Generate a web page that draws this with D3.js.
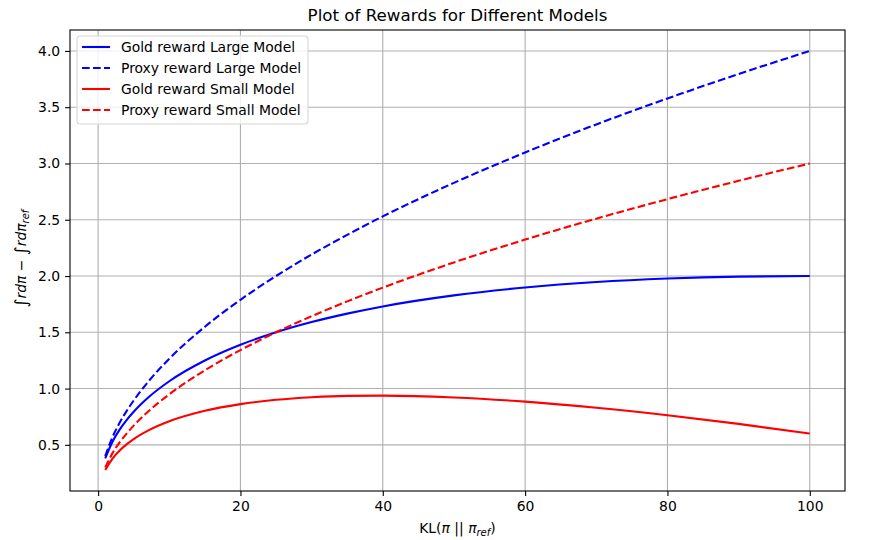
<!DOCTYPE html>
<html>
<head>
<meta charset="utf-8">
<script src="https://cdn.jsdelivr.net/npm/d3@7"></script>
<style>
  body { margin: 0; background: #fff; }
  svg { font-family: 'DejaVu Sans', sans-serif; }
  .tick text { font-size: 13.9px; fill: #000; }
</style>
</head>
<body>
<svg width="873" height="540"></svg>
<script>
// ===== data =====
var kl = [1, 2, 3, 4, 5, 7, 10, 15, 20, 25, 30, 35, 40, 50, 60, 70, 80, 90, 100]
var goldLarge = [0.38, 0.526, 0.633, 0.72, 0.794, 0.918, 1.065, 1.249, 1.389, 1.50, 1.591, 1.666, 1.730, 1.828, 1.898, 1.947, 1.978, 1.995, 2.00]
var proxyLarge = [0.40, 0.566, 0.693, 0.80, 0.894, 1.058, 1.265, 1.549, 1.789, 2.00, 2.191, 2.366, 2.530, 2.828, 3.098, 3.347, 3.578, 3.795, 4.00]
var goldSmall = [0.276, 0.376, 0.448, 0.504, 0.551, 0.626, 0.709, 0.802, 0.862, 0.90, 0.923, 0.935, 0.937, 0.921, 0.884, 0.830, 0.763, 0.686, 0.60]
var proxySmall = [0.30, 0.424, 0.520, 0.60, 0.671, 0.794, 0.949, 1.162, 1.342, 1.50, 1.643, 1.775, 1.897, 2.121, 2.324, 2.510, 2.683, 2.846, 3.00]
var xTicks = [0, 20, 40, 60, 80, 100]
var yTicks = [0.5, 1.0, 1.5, 2.0, 2.5, 3.0, 3.5, 4.0]

var series = [
  { name: 'Gold reward Large Model', values: goldLarge, color: 'blue', dash: null },
  { name: 'Proxy reward Large Model', values: proxyLarge, color: 'blue', dash: '7.7,3.3' },
  { name: 'Gold reward Small Model', values: goldSmall, color: 'red', dash: null },
  { name: 'Proxy reward Small Model', values: proxySmall, color: 'red', dash: '7.7,3.3' }
]

// ===== layout =====
var padL = 70, padR = 845, padT = 30, padB = 491
var svg = d3.select('svg')

// matplotlib style 5% margins
var xmin = d3.min(kl), xmax = d3.max(kl)
var xpad = (xmax - xmin) * 0.05
var allY = [].concat(goldLarge, proxyLarge, goldSmall, proxySmall)
var ymin = d3.min(allY), ymax = d3.max(allY)
var ypad = (ymax - ymin) * 0.05

var x = d3.scaleLinear().domain([xmin - xpad, xmax + xpad]).range([padL, padR])
var y = d3.scaleLinear().domain([ymin - ypad, ymax + ypad]).range([padB, padT])

// grid
var grid = svg.append('g')
grid.selectAll('.gx').data(xTicks).enter().append('line')
  .attr('x1', d => x(d)).attr('x2', d => x(d))
  .attr('y1', padT).attr('y2', padB)
  .attr('stroke', '#b0b0b0').attr('stroke-width', 1.1)
grid.selectAll('.gy').data(yTicks).enter().append('line')
  .attr('x1', padL).attr('x2', padR)
  .attr('y1', d => y(d)).attr('y2', d => y(d))
  .attr('stroke', '#b0b0b0').attr('stroke-width', 1.1)

// curves
var line = d3.line()
  .x(function (d, i) { return x(kl[i]) })
  .y(function (d) { return y(d) })
  .curve(d3.curveMonotoneX)

svg.append('defs').append('clipPath').attr('id', 'clip')
  .append('rect').attr('x', padL).attr('y', padT).attr('width', padR - padL).attr('height', padB - padT)

svg.append('g').attr('clip-path', 'url(#clip)')
  .selectAll('path').data(series).enter().append('path')
  .attr('d', d => line(d.values))
  .attr('fill', 'none')
  .attr('stroke', d => d.color)
  .attr('stroke-width', 2.1)
  .attr('stroke-dasharray', d => d.dash)

// axes
var xAxis = d3.axisBottom(x).tickValues(xTicks).tickFormat(d3.format('d')).tickSize(4.9).tickPadding(4.9)
var yAxis = d3.axisLeft(y).tickValues(yTicks).tickFormat(d3.format('.1f')).tickSize(4.9).tickPadding(4.9)
svg.append('g').attr('transform', 'translate(0,' + padB + ')').call(xAxis)
  .call(g => g.select('.domain').remove())
svg.append('g').attr('transform', 'translate(' + padL + ',0)').call(yAxis)
  .call(g => g.select('.domain').remove())
svg.selectAll('.tick line').attr('stroke', '#000').attr('stroke-width', 1.1)
svg.selectAll('.tick text').attr('font-family', 'DejaVu Sans')

// frame
svg.append('rect')
  .attr('x', padL).attr('y', padT).attr('width', padR - padL).attr('height', padB - padT)
  .attr('fill', 'none').attr('stroke', '#000').attr('stroke-width', 1.1)

// title
svg.append('text')
  .attr('x', (padL + padR) / 2).attr('y', 21)
  .attr('text-anchor', 'middle')
  .attr('font-size', 16.7)
  .text('Plot of Rewards for Different Models')

// x label
var xl = svg.append('text')
  .attr('x', (padL + padR) / 2).attr('y', 533)
  .attr('text-anchor', 'middle')
  .attr('font-size', 13.9)
xl.append('tspan').text('KL(')
xl.append('tspan').attr('font-style', 'italic').text('π')
xl.append('tspan').text(' || ')
xl.append('tspan').attr('font-style', 'italic').text('π')
xl.append('tspan').attr('font-style', 'italic').attr('font-size', 10).attr('dy', 3).text('ref')
xl.append('tspan').attr('dy', -3).text(')')

// y label
var yl = svg.append('text')
  .attr('transform', 'translate(26,' + ((padT + padB) / 2 - 2) + ') rotate(-90)')
  .attr('text-anchor', 'middle')
  .attr('font-size', 13.9)
yl.append('tspan').attr('font-size', 17).attr('dy', 1).text('∫')
yl.append('tspan').attr('font-style', 'italic').attr('dy', -1).text('rdπ')
yl.append('tspan').text(' − ')
yl.append('tspan').attr('font-size', 17).attr('dy', 1).text('∫')
yl.append('tspan').attr('font-style', 'italic').attr('dy', -1).text('rdπ')
yl.append('tspan').attr('font-style', 'italic').attr('font-size', 10).attr('dy', 3).text('ref')

// legend
var lg = svg.append('g').attr('transform', 'translate(77,36)')
lg.append('rect')
  .attr('width', 231).attr('height', 88).attr('rx', 3)
  .attr('fill', 'rgba(255,255,255,0.8)').attr('stroke', '#d6d6d6').attr('stroke-width', 1.1)
var items = lg.selectAll('.item').data(series).enter().append('g')
  .attr('transform', (d, i) => 'translate(0,' + (11 + i * 21) + ')')
items.append('line')
  .attr('x1', 5).attr('x2', 33)
  .attr('stroke', d => d.color).attr('stroke-width', 2.1)
  .attr('stroke-dasharray', d => d.dash)
items.append('text')
  .attr('x', 44).attr('dy', '0.35em')
  .attr('font-size', 13.9)
  .text(d => d.name)
</script>
</body>
</html>
